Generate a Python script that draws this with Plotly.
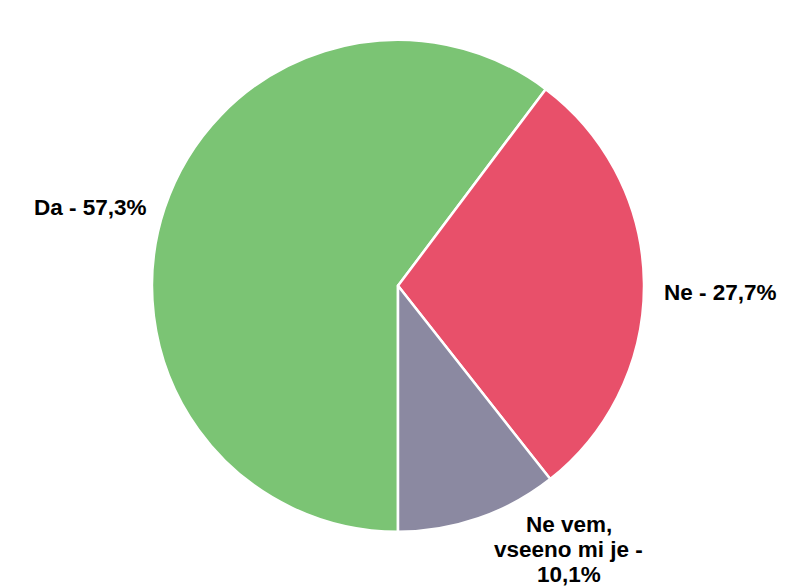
import plotly.graph_objects as go

labels = ["Da", "Ne", "Ne vem,<br>vseeno mi je"]
values = [57.3, 27.7, 10.1]
shown = ["57,3%", "27,7%", "10,1%"]
colors = ["#7BC474", "#E8506A", "#8B89A1"]

# where each label sits (paper coords) - placed by eye to match the original
label_pos = [
    dict(x=0.175, y=0.661, xanchor="right"),
    dict(x=0.819, y=0.517, xanchor="left"),
    dict(x=0.701, y=0.079, xanchor="center"),
]
LINE_GAP = 25  # px between lines of a wrapped label

text = []
for lab, s in zip(labels, shown):
    if "<br>" in lab:
        text.append(lab + " -<br>" + s)
    else:
        text.append(lab + " - " + s)

fig = go.Figure(go.Pie(
    labels=labels, values=values,
    textinfo="none", hoverinfo="label+value",
    sort=False, direction="clockwise", rotation=180,
    marker=dict(colors=colors, line=dict(color="white", width=2.5)),
    domain=dict(x=[0.18, 0.795], y=[0.109, 0.946]),
    showlegend=False,
))

# one annotation per text line so the line spacing can be kept tight
for t, pos in zip(text, label_pos):
    lines = t.split("<br>")
    n = len(lines)
    for i, line in enumerate(lines):
        fig.add_annotation(text="<b>" + line + "</b>", xref="paper", yref="paper",
                           showarrow=False, yanchor="middle", borderpad=0,
                           yshift=-(i - (n - 1) / 2) * LINE_GAP,
                           font=dict(family="Liberation Sans, Arial, sans-serif",
                                     size=22.5, color="black"),
                           **pos)

fig.update_layout(
    width=800, height=588,
    margin=dict(l=0, r=0, t=0, b=0),
    paper_bgcolor="white", plot_bgcolor="white",
)
fig.write_html("out.html")
